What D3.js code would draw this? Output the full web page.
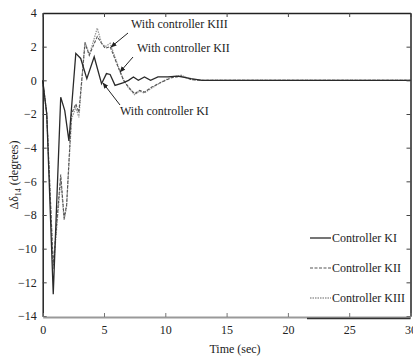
<!DOCTYPE html>
<html>
<head>
<meta charset="utf-8">
<script src="https://cdn.jsdelivr.net/npm/d3@7"></script>
<style>
  body { margin: 0; background: #fff; overflow: hidden; }
  text { font-family: "Liberation Serif", "Times New Roman", serif; fill: #222; }
</style>
</head>
<body>
<svg id="chart"></svg>
<script>
const width = 413;
const height = 360;

// data
const timeKI = [0, 0.33, 0.86, 1.47, 1.8, 2.14, 2.7, 3.1, 3.6, 4.2, 4.8, 5.2, 5.5, 5.9, 6.6, 7.0, 7.4, 7.8, 8.3, 8.8, 9.4, 10.2, 11.0, 12.1, 13, 30];
const valuesKI = [0, -2.0, -12.7, -1.0, -1.8, -3.6, 1.6, 1.3, 0.1, 1.4, -0.2, 0.4, 0.35, -0.3, -0.14, 0, 0.2, 0, 0.2, 0, 0.2, 0.2, 0.25, 0.1, 0, 0];

const timeK23 = [0, 0.33, 0.86, 1.47, 1.75, 1.95, 2.35, 2.7, 2.95, 3.45, 3.8, 4.45, 4.8, 5.1, 5.5, 6.2, 6.6, 7.0, 7.5, 7.9, 8.3, 8.9, 9.7, 10.5, 11.3, 12.1, 13, 30];
const valuesKII = [0, -2.0, -11.0, -5.6, -8.2, -7.4, -2.0, -1.4, -1.9, 2.2, 1.5, 2.6, 2.2, 1.9, 2.0, 0.7, 0, -0.4, -0.8, -0.6, -0.7, -0.4, -0.1, 0.15, 0.25, 0.05, 0, 0];
const valuesKIII = [0, -2.0, -11.2, -5.9, -8.3, -7.5, -2.3, -1.6, -2.2, 2.3, 1.5, 3.1, 2.2, 2.0, 2.2, 0.75, 0, -0.45, -0.85, -0.65, -0.75, -0.45, -0.1, 0.2, 0.3, 0.05, 0, 0];

const xTicks = [0, 5, 10, 15, 20, 25, 30];
const yTicks = [4, 2, 0, -2, -4, -6, -8, -10, -12, -14];
const legendNames = ["Controller KI", "Controller KII", "Controller KIII"];

const svg = d3.select("#chart")
    .attr("width", width)
    .attr("height", height);

const x = d3.scaleLinear().domain([0, 30]).range([42.7, 410.5]);
const y = d3.scaleLinear().domain([-14, 4]).range([316, 13]);

const series = [
    { t: timeKI, v: valuesKI, color: "#2a2a2a", dash: null, w: 1.3 },
    { t: timeK23, v: valuesKII, color: "#555", dash: "3,1.5", w: 1.1 },
    { t: timeK23, v: valuesKIII, color: "#999", dash: "1.5,1", w: 1.3 }
];

const line = d3.line()
    .x(d => x(d[0]))
    .y(d => y(d[1]));

// curves (draw lighter first)
series.slice().reverse().forEach(s => {
    svg.append("path")
        .datum(s.t.map((t, i) => [t, s.v[i]]))
        .attr("d", line)
        .attr("fill", "none")
        .attr("stroke", s.color)
        .attr("stroke-width", s.w)
        .attr("stroke-dasharray", s.dash);
});

// axes, ticks pointing inward
const axisL = svg.append("g").attr("transform", `translate(${x(0)},0)`)
    .call(d3.axisLeft(y).tickValues(yTicks).tickSizeInner(-4).tickSizeOuter(0).tickPadding(6));
const axisR = svg.append("g").attr("transform", `translate(${x(30)},0)`)
    .call(d3.axisRight(y).tickValues(yTicks).tickSizeInner(-4).tickSizeOuter(0).tickFormat(""));
const axisT = svg.append("g").attr("transform", `translate(0,${y(4)})`)
    .call(d3.axisTop(x).tickValues(xTicks).tickSizeInner(-4).tickSizeOuter(0).tickFormat(""));
const axisB = svg.append("g").attr("transform", `translate(0,${y(-14) + 1})`)
    .call(d3.axisBottom(x).tickValues(xTicks).tickSizeInner(-4).tickSizeOuter(0).tickPadding(8));

[axisL, axisR, axisT].forEach(g => {
    g.select(".domain").attr("stroke", "#222").attr("stroke-width", 1.5);
    g.selectAll(".tick line").attr("stroke", "#444");
});
axisB.select(".domain").attr("stroke", "#999").attr("stroke-width", 2.2);
axisB.selectAll(".tick line").attr("stroke", "#777");
svg.append("line")
    .attr("x1", 307).attr("x2", x(30))
    .attr("y1", y(-14) + 2.5).attr("y2", y(-14) + 2.5)
    .attr("stroke", "#333").attr("stroke-width", 1.5);

svg.selectAll(".tick text")
    .attr("font-family", "Liberation Serif, serif")
    .attr("font-size", 12)
    .attr("fill", "#222");

// axis titles
svg.append("text")
    .attr("x", 235).attr("y", 353)
    .attr("text-anchor", "middle")
    .attr("font-size", 12)
    .text("Time (sec)");

const ylab = svg.append("text")
    .attr("transform", "translate(18,175) rotate(-90)")
    .attr("text-anchor", "middle")
    .attr("font-size", 12);
ylab.append("tspan").text("Δδ");
ylab.append("tspan").attr("font-size", 8).attr("dy", 3).text("14");
ylab.append("tspan").attr("dy", -3).text(" (degrees)");

// annotations with arrows
svg.append("defs").append("marker")
    .attr("id", "head")
    .attr("viewBox", "0 0 10 10")
    .attr("refX", 9).attr("refY", 5)
    .attr("markerWidth", 6).attr("markerHeight", 6)
    .attr("orient", "auto")
    .append("path")
    .attr("d", "M0,1 L10,5 L0,9 Z")
    .attr("fill", "#222");

const notes = [
    { text: "With controller KIII", tx: 131, ty: 28, from: [128, 33], to: [111, 47] },
    { text: "With controller KII", tx: 137, ty: 52, from: [133, 57], to: [120, 72] },
    { text: "With controller KI", tx: 120, ty: 115, from: [120, 105], to: [103, 83] }
];

notes.forEach(n => {
    svg.append("text")
        .attr("x", n.tx).attr("y", n.ty)
        .attr("font-size", 12)
        .text(n.text);
    svg.append("line")
        .attr("x1", n.from[0]).attr("y1", n.from[1])
        .attr("x2", n.to[0]).attr("y2", n.to[1])
        .attr("stroke", "#222").attr("stroke-width", 1)
        .attr("marker-end", "url(#head)");
});

// legend
const legendY = [238, 268, 298];
legendNames.forEach((name, i) => {
    const s = series[i];
    svg.append("line")
        .attr("x1", 310).attr("x2", 331)
        .attr("y1", legendY[i]).attr("y2", legendY[i])
        .attr("stroke", s.color)
        .attr("stroke-width", s.w)
        .attr("stroke-dasharray", s.dash);
    svg.append("text")
        .attr("x", 332).attr("y", legendY[i] + 4)
        .attr("font-size", 12)
        .text(name);
});
</script>
</body>
</html>
